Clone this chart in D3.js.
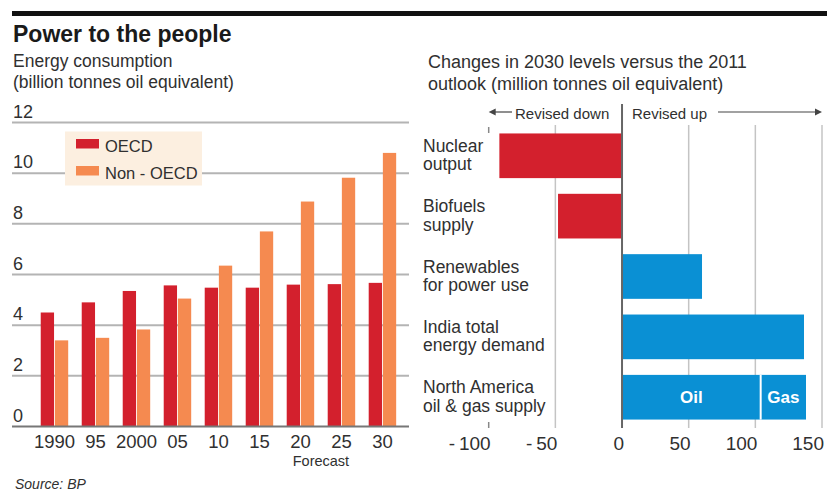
<!DOCTYPE html>
<html>
<head>
<meta charset="utf-8">
<script src="https://cdn.jsdelivr.net/npm/d3@7"></script>
<style>
  html, body { margin: 0; padding: 0; background: #fff; }
  svg { display: block; font-family: "Liberation Sans", Arial, sans-serif; }
</style>
</head>
<body>
<svg id="chart" width="827" height="496"></svg>
<script>
// ---------- Data ----------
const years = ["1990", "95", "2000", "05", "10", "15", "20", "25", "30"];
const oecd    = [4.5, 4.9, 5.35, 5.57, 5.48, 5.48, 5.6, 5.62, 5.67];
const nonOecd = [3.4, 3.5, 3.83, 5.05, 6.35, 7.7, 8.88, 9.82, 10.8];
const seriesNames = ["OECD", "Non - OECD"];
const yTicks = [0, 2, 4, 6, 8, 10, 12];

const categories = [
  ["Nuclear", "output"],
  ["Biofuels", "supply"],
  ["Renewables", "for power use"],
  ["India total", "energy demand"],
  ["North America", "oil & gas supply"]
];
const revisions = [-92, -48, 60, 136.5];          // first four categories
const naParts = ["Oil", "Gas"];
const naValues = [104, 34];                          // North America stacked
const xTicksRight = [-100, -50, 0, 50, 100, 150];

// ---------- Styles ----------
const RED = "#d3202d", ORANGE = "#f58a50", BLUE = "#0a90d4";
const TEXT = "#303030", GRID = "#b4b4b4";

const svg = d3.select("#chart");

// Top rule & titles
svg.append("rect").attr("x", 12).attr("y", 11).attr("width", 815).attr("height", 5).attr("fill", "#111");
svg.append("text").attr("x", 13).attr("y", 42).attr("font-size", 23).attr("font-weight", "bold")
  .attr("fill", "#1a1a1a").text("Power to the people");
svg.append("text").attr("x", 13).attr("y", 67).attr("font-size", 17.5).attr("fill", TEXT).text("Energy consumption");
svg.append("text").attr("x", 13).attr("y", 88).attr("font-size", 17.5).attr("fill", TEXT).text("(billion tonnes oil equivalent)");

// ---------- Left chart ----------
const y = d3.scaleLinear().domain([0, 12]).range([426.5, 122.5]);
const x0 = d3.scaleBand().domain(years).range([27.2, 409.7]).padding(0.33);
const x1 = d3.scaleBand().domain(seriesNames).range([0, x0.bandwidth()]).paddingInner(0.06);
const colorL = d3.scaleOrdinal().domain(seriesNames).range([RED, ORANGE]);

const left = svg.append("g");
// gridlines
left.selectAll("line.grid").data(yTicks.filter(d => d > 0)).join("line")
  .attr("x1", 12).attr("x2", 409).attr("y1", d => y(d)).attr("y2", d => y(d))
  .attr("stroke", GRID).attr("stroke-width", 2);
left.selectAll("text.ytick").data(yTicks).join("text")
  .attr("x", 13).attr("y", d => y(d) - 5).attr("font-size", 18).attr("fill", TEXT).text(d => d);

// bars
const rows = years.map((yr, i) => ({ year: yr, vals: [
  { s: seriesNames[0], v: oecd[i] }, { s: seriesNames[1], v: nonOecd[i] }] }));
const grp = left.selectAll("g.yr").data(rows).join("g").attr("transform", d => `translate(${x0(d.year)},0)`);
grp.selectAll("rect").data(d => d.vals).join("rect")
  .attr("x", d => x1(d.s)).attr("width", x1.bandwidth())
  .attr("y", d => y(d.v)).attr("height", d => y(0) - y(d.v))
  .attr("fill", d => colorL(d.s));

// baseline
left.append("line").attr("x1", 12).attr("x2", 409).attr("y1", y(0)).attr("y2", y(0))
  .attr("stroke", "#777").attr("stroke-width", 2);

// x labels
left.selectAll("text.xl").data(years).join("text")
  .attr("x", d => x0(d) + x0.bandwidth() / 2).attr("y", 448).attr("text-anchor", "middle")
  .attr("font-size", 18.5).attr("fill", TEXT).text(d => d);
left.append("text").attr("x", (x0("20") + x0("25") + x0.bandwidth()) / 2).attr("y", 466)
  .attr("text-anchor", "middle").attr("font-size", 14.5).attr("fill", TEXT).text("Forecast");

// legend
const lg = left.append("g");
lg.append("rect").attr("x", 65).attr("y", 131.5).attr("width", 137).attr("height", 54).attr("fill", "#fcefe0");
seriesNames.forEach((s, i) => {
  lg.append("rect").attr("x", 76).attr("y", 139 + i * 27).attr("width", 23).attr("height", 9.5).attr("fill", colorL(s));
  lg.append("text").attr("x", 105).attr("y", 152 + i * 27).attr("font-size", 16.5).attr("fill", TEXT).text(s);
});

// source
svg.append("text").attr("x", 15).attr("y", 489).attr("font-size", 14).attr("font-style", "italic")
  .attr("fill", TEXT).text("Source: BP");

// ---------- Right chart ----------
svg.append("text").attr("x", 428).attr("y", 68).attr("font-size", 18).attr("fill", TEXT)
  .text("Changes in 2030 levels versus the 2011");
svg.append("text").attr("x", 428).attr("y", 90).attr("font-size", 18).attr("fill", TEXT)
  .text("outlook (million tonnes oil equivalent)");

const xr = d3.scaleLinear().domain([-100, 150]).range([488.7, 822]);
const yr = d3.scaleBand().domain(categories.map(c => c.join(" "))).range([125, 428])
  .paddingInner(0.26).paddingOuter(0.14);
const right = svg.append("g");

// gridlines
right.selectAll("line.g").data(xTicksRight.filter(d => d !== 0 && d !== -100)).join("line")
  .attr("x1", d => xr(d)).attr("x2", d => xr(d)).attr("y1", 125).attr("y2", 428)
  .attr("stroke", "#c4c4c4").attr("stroke-width", 1.5);
// -100 short ticks
[[127, 133], [422, 428]].forEach(([a, b]) => {
  right.append("line").attr("x1", xr(-100)).attr("x2", xr(-100)).attr("y1", a).attr("y2", b)
    .attr("stroke", "#888").attr("stroke-width", 1.5);
});

// bars
const barData = revisions.map((v, i) => ({ key: categories[i].join(" "), v }));
right.selectAll("rect.b").data(barData).join("rect")
  .attr("x", d => xr(Math.min(0, d.v))).attr("width", d => Math.abs(xr(d.v) - xr(0)))
  .attr("y", d => yr(d.key)).attr("height", yr.bandwidth())
  .attr("fill", d => d.v < 0 ? RED : BLUE);

// stacked North America
const naKey = categories[4].join(" ");
let acc = 0;
const naSegs = naParts.map((p, i) => { const s = { part: p, x0: acc, x1: acc + naValues[i] }; acc += naValues[i]; return s; });
right.selectAll("rect.na").data(naSegs).join("rect")
  .attr("x", d => xr(d.x0)).attr("width", d => xr(d.x1) - xr(d.x0))
  .attr("y", yr(naKey)).attr("height", yr.bandwidth()).attr("fill", BLUE);
right.append("line").attr("x1", xr(naSegs[1].x0)).attr("x2", xr(naSegs[1].x0))
  .attr("y1", yr(naKey)).attr("y2", yr(naKey) + yr.bandwidth()).attr("stroke", "#fff").attr("stroke-width", 2);
right.selectAll("text.na").data(naSegs).join("text")
  .attr("x", d => (xr(d.x0) + xr(d.x1)) / 2).attr("y", yr(naKey) + yr.bandwidth() / 2 + 6)
  .attr("text-anchor", "middle").attr("font-size", 17).attr("font-weight", "bold").attr("fill", "#fff")
  .text(d => d.part);

// zero line
right.append("line").attr("x1", xr(0)).attr("x2", xr(0)).attr("y1", 104).attr("y2", 428)
  .attr("stroke", "#666").attr("stroke-width", 2);

// category labels
const cl = right.selectAll("text.cat").data(categories).join("text")
  .attr("x", 423).attr("font-size", 17.5).attr("fill", TEXT);
cl.selectAll("tspan").data((d, i) => d.map((t, j) => ({ t, j, c: yr(d.join(" ")) + yr.bandwidth() / 2 }))).join("tspan")
  .attr("x", 423).attr("y", d => d.c + (d.j === 0 ? -4 : 14.5)).text(d => d.t);

// x tick labels
right.selectAll("text.xt").data(xTicksRight).join("text")
  .attr("x", d => xr(d) + 2).attr("y", 450).attr("text-anchor", "end")
  .attr("font-size", 19).attr("fill", TEXT).text(d => d < 0 ? "-\u2009" + Math.abs(d) : d);

// header arrows
const hy = 112;
right.append("line").attr("x1", xr(-100) + 4).attr("x2", 512).attr("y1", hy).attr("y2", hy).attr("stroke", "#444").attr("stroke-width", 1.2);
right.append("path").attr("d", `M${xr(-100)},${hy} l7,-3.5 l0,7 z`).attr("fill", "#444");
right.append("text").attr("x", 515).attr("y", 119).attr("font-size", 15).attr("fill", TEXT).text("Revised down");
right.append("text").attr("x", 632).attr("y", 119).attr("font-size", 15).attr("fill", TEXT).text("Revised up");
right.append("line").attr("x1", 718).attr("x2", xr(150) - 4).attr("y1", hy).attr("y2", hy).attr("stroke", "#444").attr("stroke-width", 1.2);
right.append("path").attr("d", `M${xr(150)},${hy} l-7,-3.5 l0,7 z`).attr("fill", "#444");
</script>
</body>
</html>
